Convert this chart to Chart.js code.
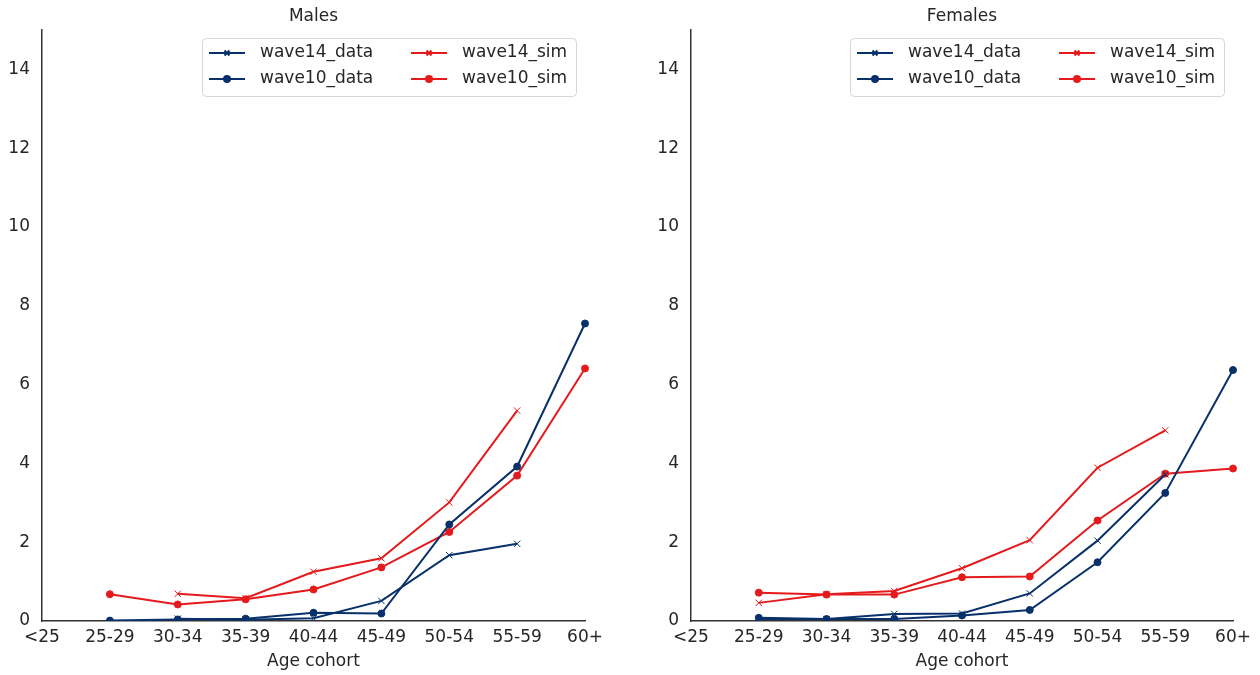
<!DOCTYPE html>
<html>
<head>
<meta charset="utf-8">
<script src="https://cdn.jsdelivr.net/npm/chart.js"></script>
<style>
    body { margin: 0; background: #fff; }
    .panel { position: absolute; top: 0; width: 630px; height: 675px; }
</style>
</head>
<body>
<div class="panel" style="left:0"><canvas id="malesChart" width="630" height="675"></canvas></div>
<div class="panel" style="left:630px"><canvas id="femalesChart" width="630" height="675"></canvas></div>
<script>
/*==============================================================
    DATA
==============================================================*/
const cohorts = ["<25", "25-29", "30-34", "35-39", "40-44", "45-49", "50-54", "55-59", "60+"];
const yTicks = [0, 2, 4, 6, 8, 10, 12, 14];

const malesWave14Data = [null, null, 0.06, 0.03, 0.07, 0.51, 1.67, 1.96, null];
const malesWave10Data = [null, 0.01, 0.04, 0.06, 0.21, 0.19, 2.45, 3.92, 7.55];
const malesWave14Sim  = [null, null, 0.69, 0.58, 1.25, 1.59, 3.01, 5.34, null];
const malesWave10Sim  = [null, 0.68, 0.42, 0.55, 0.80, 1.36, 2.26, 3.69, 6.41];

const femalesWave14Data = [null, 0.05, 0.05, 0.18, 0.19, 0.70, 2.04, 3.72, null];
const femalesWave10Data = [null, 0.08, 0.05, 0.05, 0.14, 0.28, 1.49, 3.25, 6.37];
const femalesWave14Sim  = [null, 0.46, 0.68, 0.76, 1.34, 2.05, 3.89, 4.84, null];
const femalesWave10Sim  = [null, 0.72, 0.67, 0.67, 1.11, 1.13, 2.55, 3.74, 3.87];

/*==============================================================
    STYLE
==============================================================*/
const NAVY = "#08306b";
const RED = "#e41a1c";
const TEXT = "#262626";
const FONT = "'DejaVu Sans', sans-serif";
const FONT_SIZE = 17;

Chart.defaults.font.family = FONT;
Chart.defaults.color = TEXT;

function series(label, data, color, style) {
    return {
        label: label,
        data: data,
        borderColor: color,
        backgroundColor: color,
        borderWidth: 2,
        pointStyle: style,
        pointRadius: style === "circle" ? 3.5 : 4.5,
        pointBorderWidth: 1,
        pointHoverRadius: 4,
        tension: 0,
        spanGaps: false
    };
}

/*==============================================================
    TITLE + LEGEND (drawn on the canvas, centred on plot area)
==============================================================*/
const panelDecor = {
    id: "panelDecor",
    afterDraw(chart, args, opts) {
        const ctx = chart.ctx;
        const area = chart.chartArea;
        ctx.save();

        // title
        ctx.font = FONT_SIZE + "px " + FONT;
        ctx.fillStyle = TEXT;
        ctx.textAlign = "center";
        ctx.textBaseline = "middle";
        ctx.fillText(opts.title, (area.left + area.right) / 2, 17);

        // legend box
        const w = 374, h = 58;
        const left = area.right - 9 - w;
        const top = area.top + 8;
        ctx.beginPath();
        ctx.roundRect(left + 0.5, top + 0.5, w, h, 4);
        ctx.fillStyle = "rgba(255,255,255,0.8)";
        ctx.fill();
        ctx.strokeStyle = "#d6d6d6";
        ctx.lineWidth = 1;
        ctx.stroke();
        ctx.textAlign = "left";
        chart.data.datasets.forEach(function (ds, i) {
            const col = Math.floor(i / 2);
            const row = i % 2;
            const x0 = left + 7 + col * 202;
            const y = top + 15 + row * 26;
            ctx.strokeStyle = ds.borderColor;
            ctx.fillStyle = ds.borderColor;
            ctx.lineWidth = 2;
            ctx.beginPath();
            ctx.moveTo(x0, y);
            ctx.lineTo(x0 + 36, y);
            ctx.stroke();
            Chart.helpers.drawPoint(ctx, {
                pointStyle: ds.pointStyle,
                radius: ds.pointStyle === "circle" ? 3 : 3.5,
                borderWidth: 1,
                rotation: 0
            }, x0 + 18, y);
            ctx.fillStyle = TEXT;
            ctx.fillText(ds.label, x0 + 51, y);
        });
        ctx.restore();
    }
};

/*==============================================================
    CHART
==============================================================*/
function cohortChart(id, title, sets, axisWidth, rightPad) {
    const ctx = document.getElementById(id);
    return new Chart(ctx, {
        type: "line",
        data: {
            labels: cohorts,
            datasets: [
                series("wave14_data", sets[0], NAVY, "crossRot"),
                series("wave10_data", sets[1], NAVY, "circle"),
                series("wave14_sim", sets[2], RED, "crossRot"),
                series("wave10_sim", sets[3], RED, "circle")
            ]
        },
        options: {
            responsive: false,
            animation: false,
            layout: { padding: { left: 0, right: rightPad, top: 30, bottom: 0 } },
            plugins: {
                legend: { display: false },
                tooltip: { enabled: false },
                title: { display: false },
                panelDecor: { title: title }
            },
            scales: {
                x: {
                    type: "category",
                    offset: false,
                    grid: { display: false, drawTicks: false },
                    border: { display: true, color: "#333333", width: 1.5 },
                    ticks: {
                        color: TEXT,
                        font: { size: FONT_SIZE },
                        padding: 6,
                        maxRotation: 0,
                        autoSkip: false
                    },
                    title: {
                        display: true,
                        text: "Age cohort",
                        color: TEXT,
                        font: { size: FONT_SIZE },
                        padding: { top: 4, bottom: 3 }
                    },
                    afterFit: function (scale) { scale.height = 54; }
                },
                y: {
                    min: 0,
                    max: 15,
                    grid: { display: false, drawTicks: false },
                    border: { display: true, color: "#333333", width: 1.5 },
                    ticks: { color: TEXT, font: { size: FONT_SIZE }, padding: 12 },
                    afterBuildTicks: function (scale) {
                        scale.ticks = yTicks.map(function (v) { return { value: v }; });
                    },
                    afterFit: function (scale) { scale.width = axisWidth; }
                }
            }
        },
        plugins: [panelDecor]
    });
}

cohortChart("malesChart", "Males",
    [malesWave14Data, malesWave10Data, malesWave14Sim, malesWave10Sim], 42, 45);
cohortChart("femalesChart", "Females",
    [femalesWave14Data, femalesWave10Data, femalesWave14Sim, femalesWave10Sim], 61, 27);
</script>
</body>
</html>
